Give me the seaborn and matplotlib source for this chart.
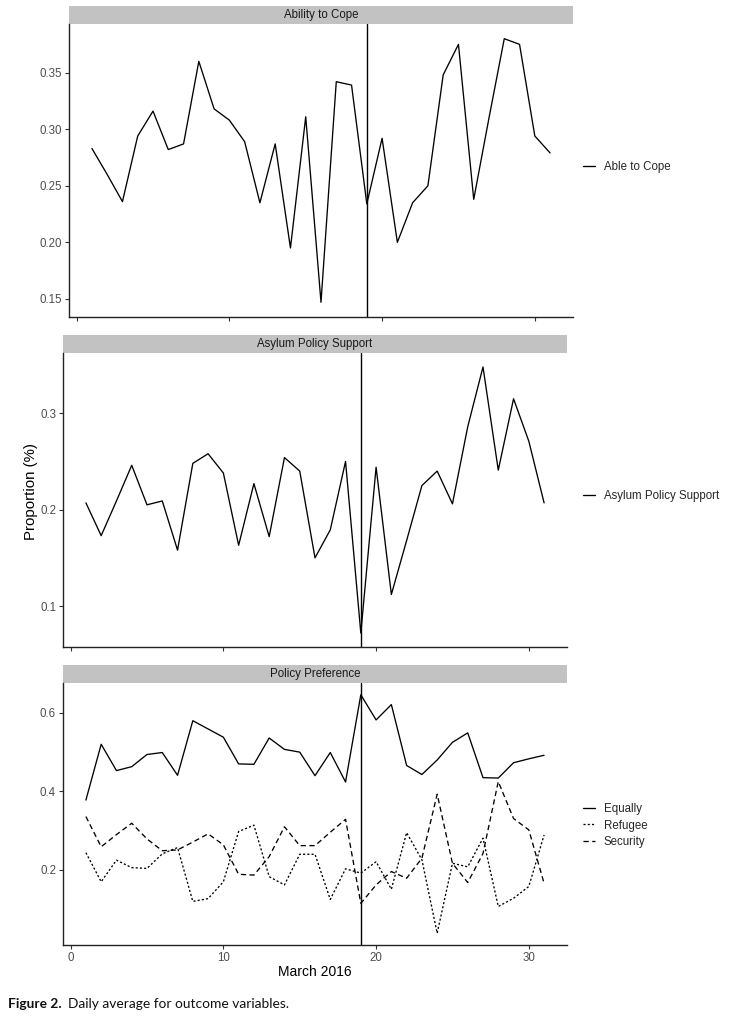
import matplotlib
matplotlib.use("Agg")
import matplotlib.pyplot as plt
import pandas as pd
import seaborn as sns
from matplotlib.lines import Line2D
from matplotlib.patches import Rectangle

# Daily averages, March 2016
days = list(range(1, 32))
cutoff_day = 19

cope = [0.283, 0.260, 0.236, 0.294, 0.316, 0.282, 0.287, 0.360, 0.318, 0.308,
        0.289, 0.235, 0.287, 0.195, 0.311, 0.147, 0.342, 0.339, 0.234, 0.292,
        0.200, 0.235, 0.250, 0.348, 0.375, 0.238, 0.310, 0.380, 0.375, 0.294, 0.279]

asylum = [0.207, 0.173, 0.209, 0.246, 0.205, 0.209, 0.158, 0.248, 0.258, 0.238,
          0.163, 0.227, 0.172, 0.254, 0.240, 0.150, 0.179, 0.250, 0.072, 0.244,
          0.112, 0.168, 0.225, 0.240, 0.206, 0.286, 0.348, 0.241, 0.315, 0.271, 0.207]

equally = [0.378, 0.520, 0.453, 0.463, 0.494, 0.499, 0.441, 0.580, 0.559, 0.538,
           0.470, 0.469, 0.536, 0.507, 0.500, 0.440, 0.499, 0.424, 0.646, 0.582,
           0.621, 0.466, 0.443, 0.480, 0.525, 0.549, 0.435, 0.434, 0.473, 0.483, 0.492]

refugee = [0.244, 0.170, 0.225, 0.206, 0.204, 0.241, 0.257, 0.120, 0.127, 0.170,
           0.298, 0.314, 0.183, 0.162, 0.240, 0.240, 0.125, 0.203, 0.192, 0.221,
           0.151, 0.295, 0.226, 0.039, 0.217, 0.208, 0.281, 0.107, 0.128, 0.158, 0.289]

security = [0.336, 0.259, 0.290, 0.319, 0.279, 0.249, 0.251, 0.271, 0.292, 0.264,
            0.189, 0.187, 0.234, 0.310, 0.262, 0.262, 0.296, 0.329, 0.115, 0.162,
            0.196, 0.179, 0.230, 0.393, 0.217, 0.168, 0.242, 0.425, 0.331, 0.302, 0.166]

x_ticks = [0, 10, 20, 30]
cope_ticks = [0.15, 0.20, 0.25, 0.30, 0.35]
asylum_ticks = [0.1, 0.2, 0.3]
pref_ticks = [0.2, 0.4, 0.6]

sns.set_theme(style="ticks")
plt.rcParams["font.family"] = ["Liberation Sans", "DejaVu Sans"]

W, H = 730, 1018
fig = plt.figure(figsize=(W / 100, H / 100), dpi=100)

LINE_KW = dict(color="black", linewidth=0.95)
TICK_COLOR = "#4D4D4D"
FS = 8.3


def px_axes(left, top, right, bottom):
    return fig.add_axes([left / W, 1 - bottom / H, (right - left) / W, (bottom - top) / H])


def style_axes(ax, title, yticks, fmt, show_x, strip_px):
    ax.set_xlim(-0.5, 32.5)
    ax.set_xticks(x_ticks)
    ax.set_yticks(yticks)
    ax.set_yticklabels([fmt.format(t) for t in yticks])
    if show_x:
        ax.set_xticklabels([str(t) for t in x_ticks])
    else:
        ax.set_xticklabels([])
    ax.set_xlabel("")
    ax.set_ylabel("")
    for side in ["top", "right"]:
        ax.spines[side].set_visible(False)
    for side in ["left", "bottom"]:
        ax.spines[side].set_color("#222222")
        ax.spines[side].set_linewidth(1.0)
    ax.tick_params(direction="out", length=3, width=0.8, color="#333333",
                   labelsize=FS, labelcolor=TICK_COLOR, pad=2)
    ax.axvline(cutoff_day, color="black", linewidth=1.0)
    # facet strip
    h_ax = ax.get_position().height * H
    strip_h = strip_px / h_ax
    ax.add_patch(Rectangle((0, 1), 1, strip_h, transform=ax.transAxes,
                           facecolor="#C2C2C2", edgecolor="none", clip_on=False))
    ax.text(0.5, 1 + strip_h / 2, title, transform=ax.transAxes, ha="center",
            va="center", fontsize=FS, color="#1A1A1A")


def add_legend(ax, handles, labels, y_px):
    ax.legend(handles, labels, loc="center left",
              bbox_to_anchor=(583 / W, 1 - y_px / H), bbox_transform=fig.transFigure,
              frameon=False, fontsize=FS, handlelength=1.05, handletextpad=0.75,
              borderpad=0, borderaxespad=0, labelspacing=0.35)


# Panel 1: Ability to Cope
ax1 = px_axes(69, 24, 573, 317)
df1 = pd.DataFrame({"day": days, "value": cope})
sns.lineplot(data=df1, x="day", y="value", ax=ax1, **LINE_KW)
ax1.set_ylim(0.134, 0.393)
style_axes(ax1, "Ability to Cope", cope_ticks, "{:.2f}", False, 18)
add_legend(ax1, [Line2D([], [], **LINE_KW)], ["Able to Cope"], 167)

# Panel 2: Asylum Policy Support
ax2 = px_axes(63, 353, 567, 647)
df2 = pd.DataFrame({"day": days, "value": asylum})
sns.lineplot(data=df2, x="day", y="value", ax=ax2, **LINE_KW)
ax2.set_ylim(0.0575, 0.3625)
style_axes(ax2, "Asylum Policy Support", asylum_ticks, "{:.1f}", False, 18)
add_legend(ax2, [Line2D([], [], **LINE_KW)], ["Asylum Policy Support"], 496)

# Panel 3: Policy Preference
ax3 = px_axes(63, 683, 567, 945)
df3 = pd.DataFrame({
    "day": days * 3,
    "value": equally + refugee + security,
    "series": ["Equally"] * 31 + ["Refugee"] * 31 + ["Security"] * 31,
})
dash_map = {"Equally": "", "Refugee": (1.6, 1.6), "Security": (4.0, 2.6)}
sns.lineplot(data=df3, x="day", y="value", style="series", dashes=dash_map,
             ax=ax3, legend=False, **LINE_KW)
ax3.set_ylim(0.009, 0.676)
style_axes(ax3, "Policy Preference", pref_ticks, "{:.1f}", True, 18)
pref_handles = [
    Line2D([], [], color="black", linewidth=0.95),
    Line2D([], [], color="black", linewidth=0.95, dashes=(1.6, 1.6)),
    Line2D([], [], color="black", linewidth=0.95, dashes=(4.0, 2.6)),
]
add_legend(ax3, pref_handles, ["Equally", "Refugee", "Security"], 825.5)

# Shared labels
fig.text(31 / W, 1 - 491 / H, "Proportion (%)", rotation=90, ha="center",
         va="center", fontsize=10.8, color="black")
fig.text(315 / W, 1 - 972 / H, "March 2016", ha="center", va="center",
         fontsize=10, color="black")

# Caption
cap_y = 1 - 1004 / H
bold = fig.text(8 / W, cap_y, "Figure 2.", ha="left", va="center", fontsize=9.9,
                fontweight="bold", family=["Lato", "DejaVu Sans"], color="#111111")
renderer = fig.canvas.get_renderer()
bb = bold.get_window_extent(renderer=renderer)
fig.text((bb.x1 + 6) / W, cap_y, "Daily average for outcome variables.", ha="left",
         va="center", fontsize=9.9, family=["Lato", "DejaVu Sans"], color="#111111")

fig.savefig("out.png", dpi=100)
